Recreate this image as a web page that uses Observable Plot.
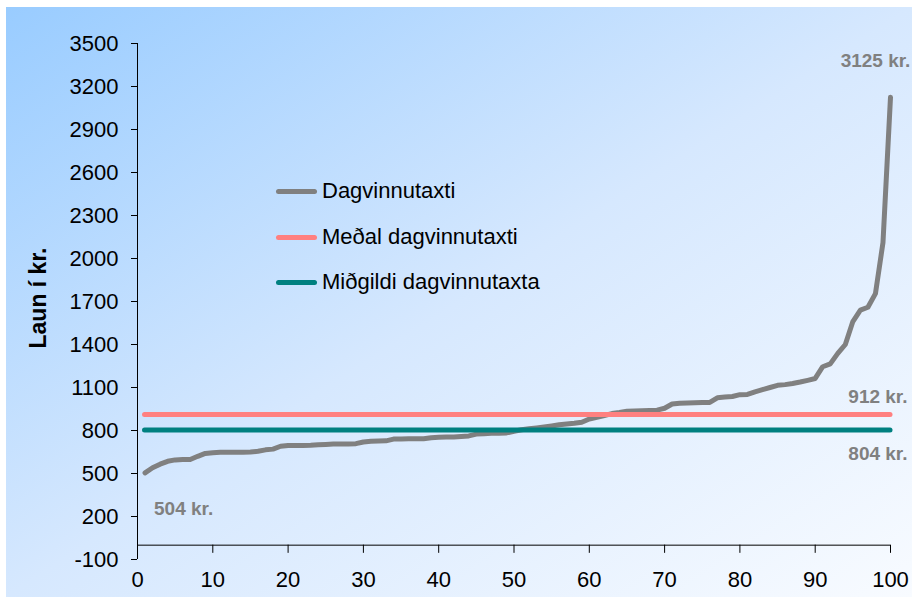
<!DOCTYPE html>
<html>
<head>
<meta charset="utf-8">
<script src="https://cdn.jsdelivr.net/npm/d3@7"></script>
<script src="https://cdn.jsdelivr.net/npm/@observablehq/plot@0.6"></script>
<style>
  html, body { margin: 0; padding: 0; background: #ffffff; }
  #wrap { position: relative; width: 912px; height: 597px; overflow: hidden; font-family: "Liberation Sans", Arial, sans-serif; }
  #bg { position: absolute; left: 6px; top: 7px; right: 0; bottom: 0;
        background: linear-gradient(to bottom right, #99CCFF 0%, #D6E8FE 50%, #F8FBFF 100%); }
  #chart { position: absolute; left: 0; top: 0; }
  #ytitle { position: absolute; left: 38px; top: 298px; transform: translate(-50%, -50%) rotate(-90deg);
            font-weight: bold; font-size: 23px; white-space: nowrap; color: #000; }
  #legend { position: absolute; left: 276px; top: 175px; }
  .li { position: relative; height: 45.5px; }
  .sw { position: absolute; left: 0; top: 14px; width: 41px; height: 5px; border-radius: 2.5px; }
  .lt { position: absolute; left: 46px; top: 3px; font-size: 22px; color: #000; white-space: nowrap; }
</style>
</head>
<body>
<div id="wrap">
  <div id="bg"></div>
  <div id="chart"></div>
  <div id="ytitle">Laun í kr.</div>
  <div id="legend"></div>
</div>
<script>
// ---- data ----
const ranks = d3.range(1, 101);
const dagvinnutaxti = [
  504, 540, 565, 585, 595, 598, 598, 620, 640, 645,
  648, 648, 648, 648, 650, 655, 665, 670, 690, 696,
  696, 696, 697, 700, 703, 705, 705, 706, 708, 720,
  725, 726, 728, 740, 741, 742, 743, 743, 750, 753,
  754, 755, 758, 762, 775, 778, 780, 781, 783, 795,
  805, 812, 818, 825, 832, 840, 845, 850, 858, 880,
  892, 905, 918, 925, 934, 936, 938, 940, 942, 955,
  985, 990, 992, 993, 995, 996, 1028, 1033, 1037, 1050,
  1052, 1070, 1085, 1100, 1115, 1120, 1128, 1138, 1150, 1163,
  1245, 1265, 1338, 1400, 1560, 1640, 1660, 1755, 2110, 3125
];
const medal = 912;     // Meðal dagvinnutaxti
const midgildi = 804;  // Miðgildi dagvinnutaxta
const yTicks = [-100, 200, 500, 800, 1100, 1400, 1700, 2000, 2300, 2600, 2900, 3200, 3500];
const xTicks = [0, 10, 20, 30, 40, 50, 60, 70, 80, 90, 100];
const seriesNames = ["Dagvinnutaxti", "Meðal dagvinnutaxti", "Miðgildi dagvinnutaxta"];
const seriesColors = ["#808080", "#FF8080", "#008080"];

const table = ranks.map((r, i) => ({rank: r, value: dagvinnutaxti[i]}));
const fmt = v => `${v} kr.`;
const labelStyle = {fill: "#808080", fontWeight: "bold", fontSize: 19};

const chart = Plot.plot({
  width: 912,
  height: 597,
  marginTop: 43,
  marginBottom: 38,
  marginLeft: 137,
  marginRight: 22,
  x: {domain: [0, 100]},
  y: {domain: [-100, 3500]},
  style: {fontFamily: "'Liberation Sans', Arial, sans-serif", fontSize: "22px", color: "#000", background: "transparent", overflow: "visible"},
  marks: [
    Plot.ruleY([0], {stroke: "#000", strokeWidth: 1}),
    Plot.ruleX([0], {stroke: "#000", strokeWidth: 1}),
    Plot.ruleX(xTicks, {y1: 0, y2: -57, stroke: "#000", strokeWidth: 1}),
    Plot.axisY({ticks: yTicks, tickSize: 6, tickPadding: 13, tickFormat: d => String(d), label: null}),
    Plot.axisX({ticks: xTicks, tickSize: 0, tickPadding: 12, tickFormat: d => String(d), label: null}),
    Plot.line(table, {x: "rank", y: "value", stroke: seriesColors[0], strokeWidth: 5, strokeLinejoin: "round", strokeLinecap: "round"}),
    Plot.ruleY([medal], {x1: ranks[0], x2: ranks[ranks.length - 1], stroke: seriesColors[1], strokeWidth: 5, strokeLinecap: "round"}),
    Plot.ruleY([midgildi], {x1: ranks[0], x2: ranks[ranks.length - 1], stroke: seriesColors[2], strokeWidth: 5, strokeLinecap: "round"}),
    Plot.text([table[table.length - 1]], {x: "rank", y: "value", text: d => fmt(d.value), dx: -15, dy: -36, ...labelStyle}),
    Plot.text([table[0]], {x: "rank", y: "value", text: d => fmt(d.value), textAnchor: "start", dx: 9, dy: 36, ...labelStyle}),
    Plot.text([medal], {x: ranks[ranks.length - 1], y: d => d, text: d => fmt(d), textAnchor: "end", dx: 17, dy: -18, ...labelStyle}),
    Plot.text([midgildi], {x: ranks[ranks.length - 1], y: d => d, text: d => fmt(d), textAnchor: "end", dx: 17, dy: 24, ...labelStyle})
  ]
});
document.getElementById("chart").appendChild(chart);

const legend = document.getElementById("legend");
seriesNames.forEach((name, i) => {
  const row = document.createElement("div");
  row.className = "li";
  const sw = document.createElement("div");
  sw.className = "sw";
  sw.style.background = seriesColors[i];
  const t = document.createElement("div");
  t.className = "lt";
  t.textContent = name;
  row.appendChild(sw);
  row.appendChild(t);
  legend.appendChild(row);
});
</script>
</body>
</html>
